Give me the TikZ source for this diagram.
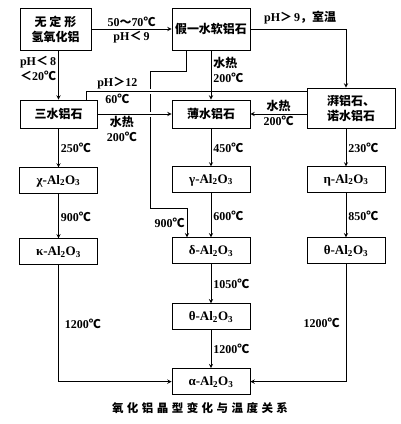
\documentclass[tikz,border=0pt]{standalone}
\usepackage{fontspec}
\setmainfont{Liberation Serif}
\newfontfamily\cjk{Noto Sans CJK SC}
\newfontfamily\capcjk[LetterSpace=30]{Noto Sans CJK SC}
\usetikzlibrary{shapes,arrows,positioning}

\newcommand{\dgc}{{\cjk ℃}}
\newcommand{\phlt}{{\cjk ＜}}
\newcommand{\phgt}{{\cjk ＞}}
\newcommand{\alox}[1]{#1-Al\textsubscript{2}O\textsubscript{3}}

\tikzset{
  phase/.style={draw, line width=0.9pt, rectangle, minimum width=78pt, minimum height=26pt, inner sep=1pt, font=\fontsize{13}{15}\selectfont\bfseries},
  zhbox/.style={phase, font=\cjk\fontsize{12}{15}\selectfont\bfseries},
  cond/.style={font=\fontsize{12}{15}\selectfont\bfseries, inner sep=2pt},
  flow/.style={->, >=stealth, line width=0.9pt},
  link/.style={line width=0.9pt},
}

\begin{document}
\begin{tikzpicture}[x=1pt, y=-1pt, node distance=44pt]
        \useasboundingbox (0,0) rectangle (400,424);
        % Nodes
        \node[zhbox, minimum width=71pt, minimum height=42pt, align=center] (amorph) at (55.5,29) {无\hspace{3pt}定\hspace{3pt}形\\氢氧化铝};
        \node[zhbox, minimum height=42pt] (pseudo) at (211,29) {假一水软铝石};
        \node[zhbox, minimum width=77pt, minimum height=28pt] (gibbs) at (58.5,114) {三水铝石};
        \node[zhbox, minimum height=28pt] (boehm) at (211,114) {薄水铝石};
        \node[zhbox, minimum width=88pt, minimum height=40pt, align=center] (bayer) at (351,108) {湃铝石、\\诺水铝石};
        \node[phase, below=39pt of gibbs] (chi) {\alox{χ}};
        \node[phase, below=of chi] (kappa) {\alox{κ}};
        \node[phase, below=38pt of boehm] (gamma) {\alox{γ}};
        \node[phase, below=of gamma] (delta) {\alox{δ}};
        \node[phase, below=39pt of delta] (thetam) {\alox{θ}};
        \node[phase, below=38pt of thetam] (alpha) {\alox{α}};
        \node[phase, below=38pt of bayer, xshift=-5pt] (eta) {\alox{η}};
        \node[phase, below=of eta] (thetar) {\alox{θ}};
        \node[font=\capcjk\fontsize{11.5}{14}\selectfont\bfseries] (caption) at (200,408) {氧化铝晶型变化与温度关系};

        % Bends
        \coordinate (stepa) at (150,71);
        \coordinate (stepb) at (150,208);

        % Arrows
        \draw[flow] (amorph) -- (pseudo)
            node[midway, above, cond] {50{\cjk ～}70\dgc}
            node[midway, below, cond] {pH\phlt\,9};
        \draw[flow] (gibbs.north |- amorph.south) -- (gibbs.north)
            node[pos=0.36, left, cond, align=center] {pH\phlt\,8\\\phlt 20\dgc};
        \draw[flow] (pseudo.east) -| (eta.north |- bayer.north)
            node[pos=0.26, above=2pt, cond] {pH\phgt\,9{\cjk ，室温}};
        \draw[flow] ([xshift=-25pt]pseudo.south) |- (stepa) -- (stepb) -| ([xshift=-24pt]delta.north)
            node[pos=0.75, left, cond] {900\dgc};
        \draw[link, preaction={draw=white, line width=5pt, shorten >=4pt, shorten <=4pt}] ([yshift=-4pt]bayer.north west) -| ([xshift=-11pt]gibbs.north east)
            node[pos=0.43, above, cond] {pH\phgt 12}
            node[pos=0.43, below, cond] {60\dgc};
        \draw[flow, preaction={draw=white, line width=5pt, -, shorten >=6pt, shorten <=6pt}] (gibbs) -- (boehm)
            node[pos=0.33, below, cond, align=center] {{\cjk 水热}\\200\dgc};
        \draw[flow] (pseudo) -- (boehm)
            node[pos=0.4, right, cond, align=left] {{\cjk 水热}\\200\dgc};
        \draw[flow] (bayer.west |- boehm.east) -- (boehm.east)
            node[midway, above, cond] {\cjk 水热}
            node[midway, below, cond] {200\dgc};
        \draw[flow] (gibbs) -- (chi) node[midway, right, cond] {250\dgc};
        \draw[flow] (chi) -- (kappa) node[midway, right, cond] {900\dgc};
        \draw[flow] (kappa.south) |- (alpha.west) node[pos=0.25, right=4pt, cond] {1200\dgc};
        \draw[flow] (boehm) -- (gamma) node[midway, right, cond] {450\dgc};
        \draw[flow] (gamma) -- (delta) node[midway, right, cond] {600\dgc};
        \draw[flow] (delta) -- (thetam) node[midway, right, cond] {1050\dgc};
        \draw[flow] (thetam) -- (alpha) node[midway, right, cond] {1200\dgc};
        \draw[flow] (eta.north |- bayer.south) -- (eta.north) node[midway, right, cond] {230\dgc};
        \draw[flow] (eta) -- (thetar) node[midway, right, cond] {850\dgc};
        \draw[flow] (thetar.south) |- (alpha.east) node[pos=0.25, left=4pt, cond] {1200\dgc};
    \end{tikzpicture}
\end{document}
